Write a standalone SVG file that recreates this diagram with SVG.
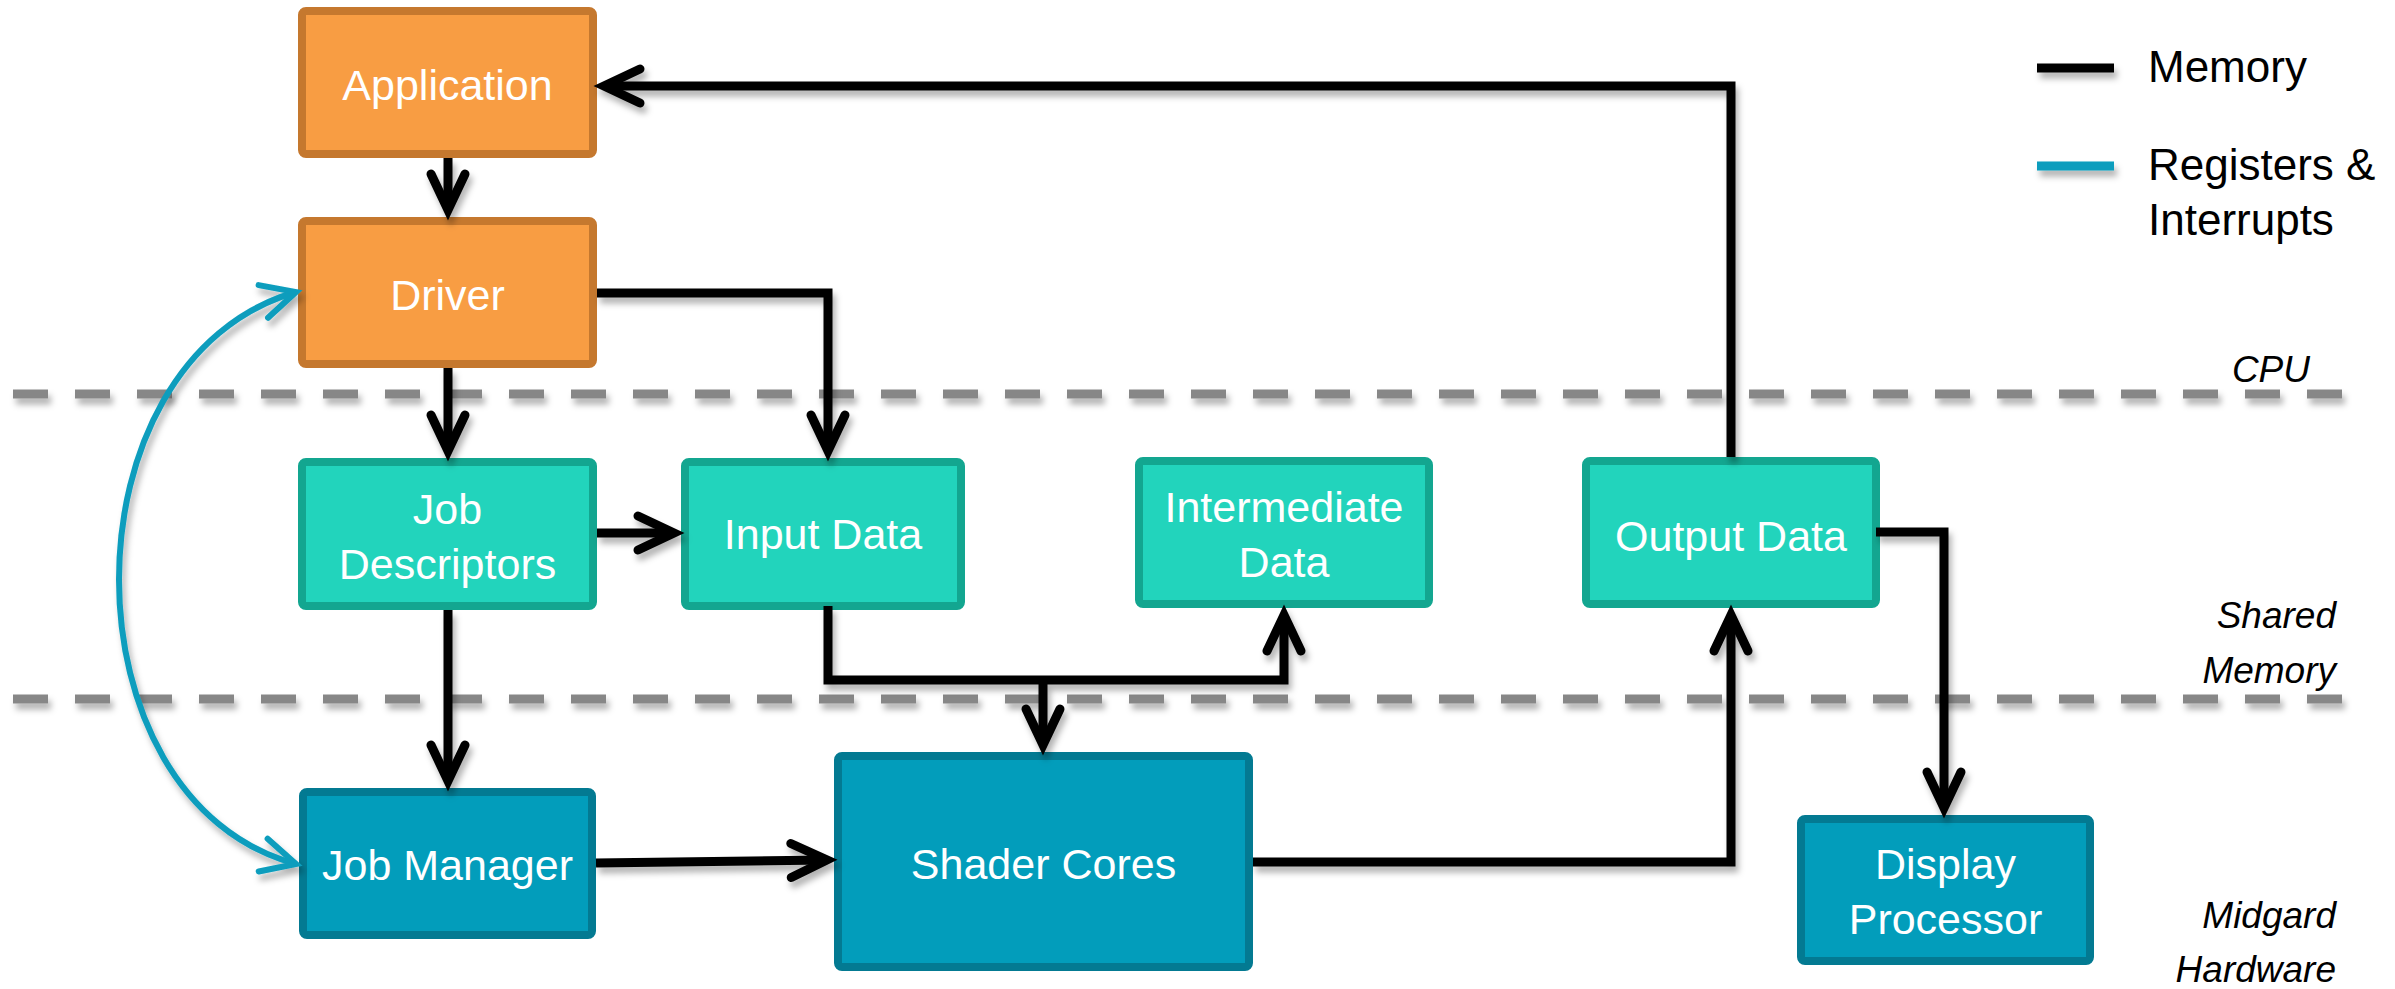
<svg xmlns="http://www.w3.org/2000/svg" width="2395" height="989" viewBox="0 0 2395 989">
  <style>
    .cpu rect { fill: #F89D43; stroke: #C5782E; stroke-width: 8; }
    .mem rect { fill: #22D4BC; stroke: #13A690; stroke-width: 8; }
    .hw rect { fill: #029DBB; stroke: #037A92; stroke-width: 8; }
    .node text { font-family: "Liberation Sans", Arial, sans-serif; font-size: 43px; fill: #ffffff; text-anchor: middle; }
    .wire { fill: none; stroke: #000; stroke-width: 9; stroke-linejoin: miter; stroke-linecap: butt; marker-end: url(#chev); }
    .reg { fill: none; stroke: #0A9DBD; stroke-width: 6; marker-start: url(#chevBlue); marker-end: url(#chevBlue); }
    .divider { stroke: #878787; stroke-width: 9; stroke-dasharray: 35 27; }
    .zone { font-family: "Liberation Sans", Arial, sans-serif; font-size: 37px; font-style: italic; fill: #000; text-anchor: end; }
    .legend text { font-family: "Liberation Sans", Arial, sans-serif; font-size: 44px; fill: #000; }
  </style>
  <defs>
    <filter id="shadow" filterUnits="userSpaceOnUse" x="0" y="0" width="2395" height="989">
      <feDropShadow dx="3" dy="6" stdDeviation="3" flood-color="#000" flood-opacity="0.3"/>
    </filter>
    <marker id="chev" markerUnits="userSpaceOnUse" viewBox="-60 -30 80 60" markerWidth="80" markerHeight="60" refX="0" refY="0" orient="auto" overflow="visible">
      <path d="M-36,-17 L0,0 L-36,17" fill="none" stroke="#000" stroke-width="9" stroke-linecap="round" stroke-linejoin="miter"/>
    </marker>
    <marker id="chevBlue" markerUnits="userSpaceOnUse" viewBox="-60 -30 80 60" markerWidth="80" markerHeight="60" refX="0" refY="0" orient="auto-start-reverse" overflow="visible">
      <path d="M-34,-17 L0,0 L-34,17" fill="none" stroke="#0A9DBD" stroke-width="6" stroke-linecap="round" stroke-linejoin="miter"/>
    </marker>
  </defs>

  <rect width="2395" height="989" fill="#ffffff"/>

  <!-- layer dividers -->
  <g id="dividers" filter="url(#shadow)">
    <line class="divider" x1="13" y1="394" x2="2360" y2="394"/>
    <line class="divider" x1="13" y1="699" x2="2360" y2="699"/>
  </g>

  <!-- layer names -->
  <g id="zones">
    <text class="zone" x="2310" y="382">CPU</text>
    <text class="zone" x="2336" y="628">Shared</text>
    <text class="zone" x="2336" y="683">Memory</text>
    <text class="zone" x="2336" y="928">Midgard</text>
    <text class="zone" x="2336" y="982">Hardware</text>
  </g>

  <!-- legend -->
  <g id="legend" class="legend">
    <g filter="url(#shadow)">
      <line x1="2037" y1="68" x2="2114" y2="68" stroke="#000" stroke-width="9"/>
      <line x1="2037" y1="166" x2="2114" y2="166" stroke="#0A9DBD" stroke-width="9"/>
    </g>
    <text x="2148" y="82">Memory</text>
    <text x="2148" y="180">Registers &amp;</text>
    <text x="2148" y="235">Interrupts</text>
  </g>

  <!-- nodes -->
  <g id="application" class="node cpu">
    <rect x="302" y="11" width="291" height="143" rx="4"/>
    <text x="447.5" y="100">Application</text>
  </g>
  <g id="driver" class="node cpu">
    <rect x="302" y="221" width="291" height="143" rx="4"/>
    <text x="447.5" y="310">Driver</text>
  </g>
  <g id="job-descriptors" class="node mem">
    <rect x="302" y="462" width="291" height="144" rx="4"/>
    <text x="447.5" y="524">Job</text>
    <text x="447.5" y="579">Descriptors</text>
  </g>
  <g id="input-data" class="node mem">
    <rect x="685" y="462" width="276" height="144" rx="4"/>
    <text x="823" y="549">Input Data</text>
  </g>
  <g id="intermediate-data" class="node mem">
    <rect x="1139" y="461" width="290" height="143" rx="4"/>
    <text x="1284" y="522">Intermediate</text>
    <text x="1284" y="577">Data</text>
  </g>
  <g id="output-data" class="node mem">
    <rect x="1586" y="461" width="290" height="143" rx="4"/>
    <text x="1731" y="551">Output Data</text>
  </g>
  <g id="job-manager" class="node hw">
    <rect x="303" y="792" width="289" height="143" rx="4"/>
    <text x="447.5" y="880">Job Manager</text>
  </g>
  <g id="shader-cores" class="node hw">
    <rect x="838" y="756" width="411" height="211" rx="4"/>
    <text x="1043.5" y="879">Shader Cores</text>
  </g>
  <g id="display-processor" class="node hw">
    <rect x="1801" y="819" width="289" height="142" rx="4"/>
    <text x="1945.5" y="879">Display</text>
    <text x="1945.5" y="934">Processor</text>
  </g>

  <!-- connectors -->
  <g id="connectors" filter="url(#shadow)">
    <path class="wire" d="M448,158 V210"/>
    <path class="wire" d="M597,293 H828 V451"/>
    <path class="wire" d="M448,368 V451"/>
    <path class="wire" d="M597,533 H674"/>
    <path class="wire" d="M448,610 V781"/>
    <path class="wire" d="M828,606 V680 H1284 V615"/>
    <path class="wire" d="M1043,680 V745"/>
    <path class="wire" d="M596,863 L827,860"/>
    <path class="wire" d="M1253,862 H1731 V615"/>
    <path class="wire" d="M1731,457 V86 H604"/>
    <path class="wire" d="M1876,532 H1944 V808"/>
    <path class="reg" d="M296,292 C60,360 60,800 296,864"/>
  </g>
</svg>
